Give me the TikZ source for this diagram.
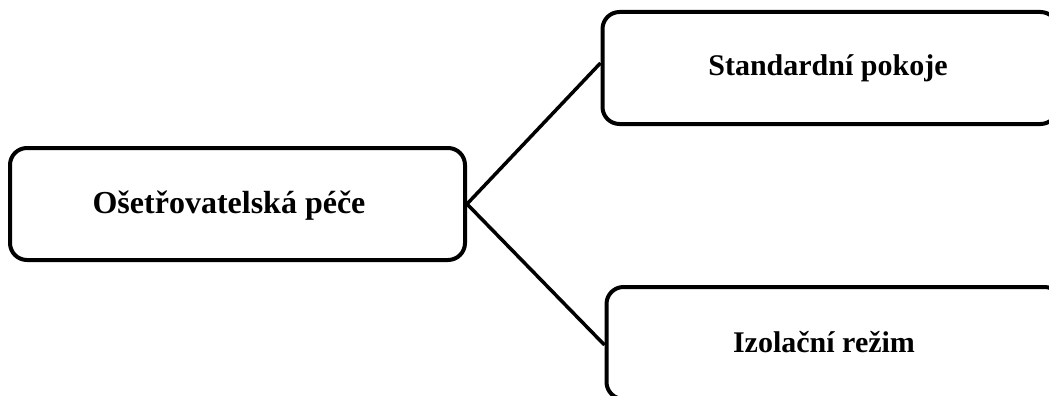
\documentclass[tikz,border=0pt]{standalone}
\usepackage{fontspec}
\setmainfont{Liberation Serif}
\begin{document}
\begin{tikzpicture}[x=1pt,y=-1pt,
  box/.style={draw=black,line width=4pt,rounded corners=17pt,minimum width=455pt,minimum height=112pt,inner sep=0pt},
  lbl/.style={font=\bfseries\fontsize{30}{36}\selectfont,inner sep=0pt,anchor=center},
  conn/.style={draw=black,line width=3.5pt}]
\clip (0,0) rectangle (1049,396);
\fill[white] (0,0) rectangle (1049,396);
\node[box] (l) at (237.5,204) {};
\node[box] (t) at (830,68) {};
\node[box] (b) at (834,343) {};
\node[lbl,font=\bfseries\fontsize{32}{38}\selectfont] (lt) at (229,206) {Ošetřovatelská péče};
\node[lbl] (tt) at (828,68) {Standardní pokoje};
\node[lbl] (bt) at (824,342) {Izolační režim};
\draw[conn] (l.east) -- ([yshift=5pt]t.west);
\draw[conn] (l.east) -- ([yshift=-2pt]b.west);
\end{tikzpicture}
\end{document}
